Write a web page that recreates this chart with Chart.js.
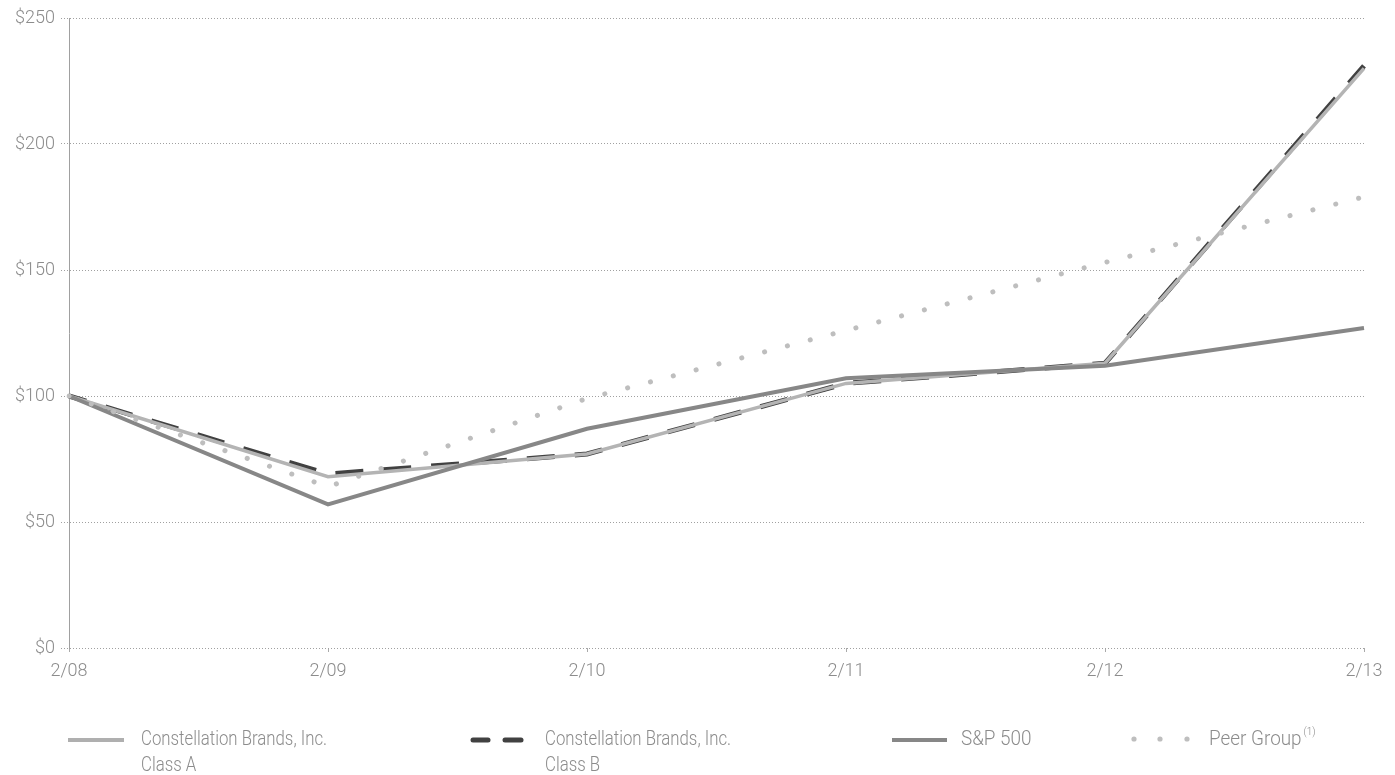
<!DOCTYPE html>
<html>
<head>
<meta charset="utf-8">
<script src="https://cdn.jsdelivr.net/npm/chart.js@4"></script>
<style>
  html, body { margin: 0; padding: 0; background: #fff; }
  #wrap { width: 1395px; height: 775px; position: relative; }
</style>
</head>
<body>
<div id="wrap"><canvas id="myChart"></canvas></div>
<script>
const years = ['2/08', '2/09', '2/10', '2/11', '2/12', '2/13'];
const classA = [100, 68, 77, 105, 113, 230];
const classB = [100, 69, 77, 105, 113, 231];
const sp500 = [100, 57, 87, 107, 112, 127];
const peerGroup = [100, 64, 99, 126, 153, 179];
const yTicks = [0, 50, 100, 150, 200, 250];

const FONT = 'Roboto, "DejaVu Sans", sans-serif';
const TEXT = 'rgb(140, 140, 140)';

// condensed text, the original uses a narrow light face
function narrowText(c, str, x, y, sx) {
  c.save();
  c.translate(x, y);
  c.scale(sx, 1);
  c.fillText(str, 0, 0);
  const w = c.measureText(str).width * sx;
  c.restore();
  return w;
}

// legend drawn under the plot, two-line labels like the original
const bottomLegend = {
  id: 'bottomLegend',
  afterDraw(chart) {
    const c = chart.ctx;
    const y = 740;
    const sx = 0.8;
    c.save();
    c.font = '300 21px ' + FONT;
    c.fillStyle = TEXT;
    c.textBaseline = 'middle';
    c.lineCap = 'butt';

    // Class A
    c.strokeStyle = 'rgb(175, 175, 175)';
    c.lineWidth = 4;
    c.beginPath(); c.moveTo(68, y); c.lineTo(124, y); c.stroke();
    narrowText(c, 'Constellation Brands, Inc.', 141, y, sx);
    narrowText(c, 'Class A', 141, y + 26, sx);

    // Class B
    c.strokeStyle = 'rgb(65, 65, 65)';
    c.lineWidth = 5;
    c.lineCap = 'round';
    c.beginPath(); c.moveTo(473, y); c.lineTo(488, y); c.stroke();
    c.beginPath(); c.moveTo(505, y); c.lineTo(521, y); c.stroke();
    narrowText(c, 'Constellation Brands, Inc.', 545, y, sx);
    narrowText(c, 'Class B', 545, y + 26, sx);

    // S&P 500
    c.strokeStyle = 'rgb(135, 135, 135)';
    c.lineWidth = 4;
    c.lineCap = 'butt';
    c.beginPath(); c.moveTo(892, y); c.lineTo(947, y); c.stroke();
    narrowText(c, 'S&P 500', 961, y, 0.9);

    // Peer Group
    c.fillStyle = 'rgb(190, 190, 190)';
    [1134, 1160, 1187].forEach(function (x) {
      c.beginPath(); c.arc(x, y - 1, 2.6, 0, Math.PI * 2); c.fill();
    });
    c.fillStyle = TEXT;
    const w = narrowText(c, 'Peer Group', 1209, y, 0.9);
    c.font = '300 10px ' + FONT;
    c.fillText('(1)', 1209 + w + 2, y - 8);
    c.restore();
  }
};

const ctx = document.getElementById('myChart').getContext('2d');
new Chart(ctx, {
  type: 'line',
  data: {
    labels: years,
    datasets: [
      {
        label: 'Peer Group',
        data: peerGroup,
        borderColor: 'rgb(190, 190, 190)',
        borderWidth: 5,
        borderDash: [0.1, 23.5],
        borderCapStyle: 'round',
        pointRadius: 0,
        tension: 0,
        fill: false,
      },
      {
        label: 'S&P 500',
        data: sp500,
        borderColor: 'rgb(135, 135, 135)',
        borderWidth: 4,
        pointRadius: 0,
        tension: 0,
        fill: false,
      },
      {
        label: 'Constellation Brands, Inc. Class A',
        data: classA,
        borderColor: 'rgb(180, 180, 180)',
        borderWidth: 3.5,
        pointRadius: 0,
        tension: 0,
        fill: false,
      },
      {
        label: 'Constellation Brands, Inc. Class B',
        data: classB,
        borderColor: 'rgb(65, 65, 65)',
        borderWidth: 5,
        borderDash: [28, 20],
        borderDashOffset: 10,
        pointRadius: 0,
        tension: 0,
        fill: false,
      },
    ],
  },
  options: {
    responsive: true,
    maintainAspectRatio: false,
    animation: false,
    layout: { padding: { top: 18, right: 31, left: 0, bottom: 0 } },
    plugins: {
      legend: { display: false },
      tooltip: { enabled: false },
    },
    scales: {
      x: {
        offset: false,
        afterFit(scale) { scale.height = 127; },
        grid: {
          drawOnChartArea: false,
          color: 'rgb(170, 170, 170)',
          tickLength: 4,
        },
        border: { display: false },
        ticks: {
          color: TEXT,
          padding: 9,
          maxRotation: 0,
          font: { family: FONT, size: 18, weight: '300' },
        },
      },
      y: {
        min: 0,
        max: 250,
        afterFit(scale) { scale.width = 69; },
        afterBuildTicks(scale) { scale.ticks = yTicks.map(v => ({ value: v })); },
        grid: {
          color: 'rgb(160, 160, 160)',
          lineWidth: 1,
          tickLength: 8,
          tickBorderDash: [1, 2],
        },
        border: { display: true, color: 'rgb(160, 160, 160)', dash: [1, 2] },
        ticks: {
          color: TEXT,
          padding: 6,
          font: { family: FONT, size: 18, weight: '300' },
          callback: v => '$' + v,
        },
      },
    },
  },
  plugins: [bottomLegend],
});
</script>
</body>
</html>
